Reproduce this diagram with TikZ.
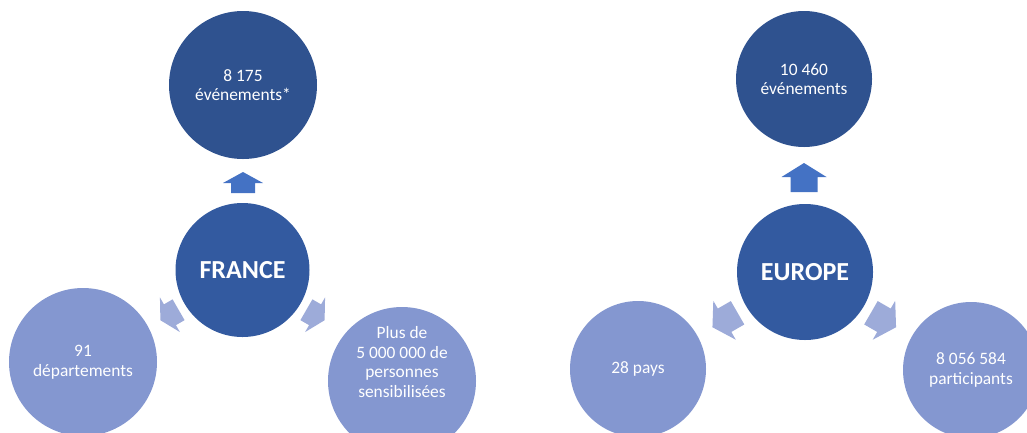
\documentclass[tikz,border=0pt]{standalone}
\usepackage{fontspec}
\setmainfont{Carlito}

\definecolor{topblue}{HTML}{2F528F}
\definecolor{hubblue}{HTML}{335AA0}
\definecolor{leafblue}{HTML}{8497D0}
\definecolor{uparrow}{HTML}{4472C4}
\definecolor{sidearrow}{HTML}{9DABD9}

\newcommand{\lbltext}{\fontsize{17.4}{19.5}\selectfont}
\newcommand{\hubtext}{\fontsize{26}{30}\selectfont\bfseries}

\tikzset{
	bubble/.style={circle, inner sep=0pt, text=white, align=center, font=\lbltext},
	topbubble/.style={bubble, fill=topblue},
	hubbubble/.style={bubble, fill=hubblue, font=\hubtext},
	leafbubble/.style={bubble, fill=leafblue},
	plaintext/.style={inner sep=0pt, text=white, align=center, font=\lbltext},
	% block arrow pointing along +x: length / head length / head half width / shaft half width
	pics/blockarrow/.style n args={4}{code={
		\fill (-#1/2,-#4) -- (#1/2-#2,-#4) -- (#1/2-#2,-#3) -- (#1/2,0)
			-- (#1/2-#2,#3) -- (#1/2-#2,#4) -- (-#1/2,#4) -- cycle;
	}}
}

\begin{document}
\begin{tikzpicture}[x=1pt, y=-1pt]
	
	\useasboundingbox (0,0) rectangle (1027,432);
	
	% France
	\node[topbubble, minimum size=148pt] (frevt) at (243,85) {8 175\\événements*};
	\node[hubbubble, minimum size=134pt] (france) at (242.5,270) {FRANCE};
	\node[leafbubble, minimum size=148pt] (frdep) at (83,362) {91\\départements};
	\node[leafbubble, minimum size=148pt] (frpers) at (402,381) {};
	\node[plaintext] (frperstxt) at (402,362) {Plus de\\5 000 000 de\\personnes\\sensibilisées};
	
	\pic[fill=uparrow, rotate=90] at (243,182.5) {blockarrow={21}{11}{20}{12}};
	\pic[fill=sidearrow, rotate=210] at (169.5,315) {blockarrow={21}{11}{20}{12}};
	\pic[fill=sidearrow, rotate=-30] at (315.5,315) {blockarrow={21}{11}{20}{12}};
	
	% Europe
	\node[topbubble, minimum size=136pt] (euevt) at (804,79) {10 460\\événements};
	\node[hubbubble, minimum size=136pt] (europe) at (805,272) {EUROPE};
	\node[leafbubble, minimum size=136pt] (eupays) at (638,369) {28 pays};
	\node[leafbubble, minimum size=136pt] (eupart) at (971,370) {8 056 584\\participants};
	
	\pic[fill=uparrow, rotate=90] at (804,177.5) {blockarrow={29}{14}{22.5}{13.5}};
	\pic[fill=sidearrow, rotate=210] at (725,320) {blockarrow={29}{14}{22.5}{13.5}};
	\pic[fill=sidearrow, rotate=-30] at (883.5,320) {blockarrow={29}{14}{22.5}{13.5}};
	
\end{tikzpicture}
\end{document}
